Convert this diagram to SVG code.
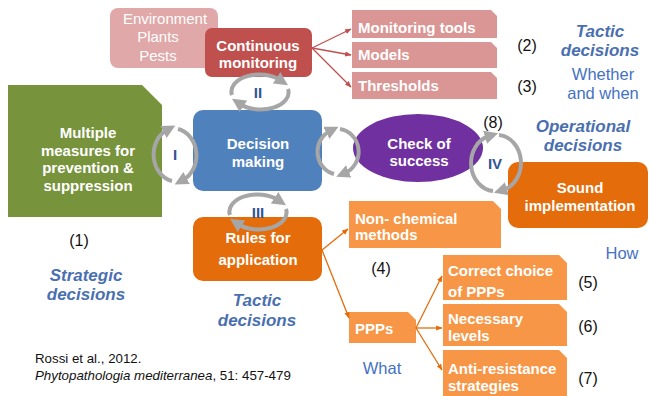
<svg xmlns="http://www.w3.org/2000/svg" width="650" height="396" viewBox="0 0 650 396">
<defs>
<style>
.w{font-family:"Liberation Sans",Arial,sans-serif;font-weight:bold;fill:#fff;font-size:15px}
.c{text-anchor:middle}
.blu{font-family:"Liberation Sans",Arial,sans-serif;font-weight:bold;font-style:italic;fill:#4a6fb0;font-size:17px;text-anchor:middle}
.blr{font-family:"Liberation Sans",Arial,sans-serif;fill:#4472c4;font-size:16.5px;text-anchor:middle}
.num{font-family:"Liberation Sans",Arial,sans-serif;fill:#111;font-size:16px;text-anchor:middle}
.rn{font-family:"Liberation Sans",Arial,sans-serif;font-weight:bold;fill:#2f5597;font-size:15px;text-anchor:middle}
.cyc{fill:none;stroke:#a6a6a6;stroke-width:4;marker-end:url(#ga)}
.rl{fill:none;stroke:#c0504d;stroke-width:1.3;marker-end:url(#ra)}
.ol{fill:none;stroke:#e46c0a;stroke-width:1.3;marker-end:url(#oa)}
.lo{fill:#f79646}
.pk{fill:#d99694}
.ref{font-family:"Liberation Sans",Arial,sans-serif;fill:#111;font-size:13.3px}
</style>
<marker id="ga" viewBox="0 0 10 10" refX="3" refY="5" markerWidth="3.4" markerHeight="3.4" orient="auto"><path d="M0,0 L10,5 L0,10 Z" fill="#a6a6a6"/></marker>
<marker id="ra" viewBox="0 0 10 10" refX="9" refY="5" markerWidth="5" markerHeight="5" orient="auto"><path d="M0,1 L10,5 L0,9 Z" fill="#c0504d"/></marker>
<marker id="oa" viewBox="0 0 10 10" refX="9" refY="5" markerWidth="5" markerHeight="5" orient="auto"><path d="M0,1 L10,5 L0,9 Z" fill="#e46c0a"/></marker>
</defs>
<rect width="650" height="396" fill="#fff"/>

<g id="environment">
<rect x="110" y="8" width="108" height="60" rx="8" fill="#e0a8a8"/>
<text class="c" x="165" y="24" font-family="Liberation Sans,Arial,sans-serif" font-size="15" fill="#fff">Environment</text>
<text class="c" x="158" y="42" font-family="Liberation Sans,Arial,sans-serif" font-size="15" fill="#fff">Plants</text>
<text class="c" x="158" y="61" font-family="Liberation Sans,Arial,sans-serif" font-size="15" fill="#fff">Pests</text>
</g>
<g id="continuous-monitoring">
<rect x="205" y="28" width="107" height="49" rx="7" fill="#c0504d"/>
<text class="w c" x="258" y="51">Continuous</text>
<text class="w c" x="258" y="68">monitoring</text>
</g>
<g id="monitoring-tools">
<path class="pk" d="M352,10 H491 L497,16 V38 H352 Z"/>
<text class="w" x="358" y="33">Monitoring tools</text>
</g>
<g id="models">
<path class="pk" d="M352,42 H491 L497,48 V68 H352 Z"/>
<text class="w" x="358" y="60">Models</text>
</g>
<g id="thresholds">
<path class="pk" d="M352,72 H491 L497,78 V99 H352 Z"/>
<text class="w" x="358" y="91">Thresholds</text>
</g>
<g id="multiple-measures">
<path d="M8,85 H142 L162,105 V217 H8 Z" fill="#77933c"/>
<text class="w c" x="88" y="138" font-size="17">Multiple</text>
<text class="w c" x="88" y="156" font-size="17">measures for</text>
<text class="w c" x="88" y="173" font-size="17">prevention &amp;</text>
<text class="w c" x="88" y="191" font-size="17">suppression</text>
</g>
<g id="decision-making">
<rect x="193" y="110" width="129" height="81" rx="10" fill="#4f81bd"/>
<text class="w c" x="258" y="149" font-size="17">Decision</text>
<text class="w c" x="258" y="167" font-size="17">making</text>
</g>
<g id="check-of-success">
<ellipse cx="418" cy="148" rx="65" ry="34" fill="#7030a0"/>
<text class="w c" x="419" y="149" font-size="16">Check of</text>
<text class="w c" x="419" y="166" font-size="16">success</text>
</g>
<g id="sound-implementation">
<rect x="508" y="162" width="140" height="66" rx="10" fill="#e46c0a"/>
<text class="w c" x="580" y="193" font-size="15.5">Sound</text>
<text class="w c" x="580" y="211" font-size="15.5">implementation</text>
</g>
<g id="rules-for-application">
<rect x="193" y="217" width="129" height="64" rx="10" fill="#e46c0a"/>
<text class="w c" x="258" y="243">Rules for</text>
<text class="w c" x="258" y="265">application</text>
</g>
<g id="non-chemical">
<path class="lo" d="M349,201 H493 L501,209 V248 H349 Z"/>
<text class="w" x="355" y="224">Non- chemical</text>
<text class="w" x="355" y="240">methods</text>
</g>
<g id="ppps">
<path class="lo" d="M349,312 H408 L416,320 V343 H349 Z"/>
<text class="w" x="355" y="334">PPPs</text>
</g>
<g id="correct-choice">
<path class="lo" d="M443,255 H559 L567,263 V300 H443 Z"/>
<text class="w" x="448" y="276">Correct choice</text>
<text class="w" x="448" y="297">of PPPs</text>
</g>
<g id="necessary-levels">
<path class="lo" d="M443,304 H559 L567,312 V346 H443 Z"/>
<text class="w" x="448" y="324">Necessary</text>
<text class="w" x="448" y="341">levels</text>
</g>
<g id="anti-resistance">
<path class="lo" d="M443,350 H559 L567,358 V396 H443 Z"/>
<text class="w" x="448" y="374">Anti-resistance</text>
<text class="w" x="448" y="391">strategies</text>
</g>

<g id="connectors">
<path class="rl" d="M312,48 L351,29"/>
<path class="rl" d="M312,48 L351,55"/>
<path class="rl" d="M312,48 L351,87"/>
<path class="ol" d="M322,250 L348,229"/>
<path class="ol" d="M322,250 L349,318"/>
<path class="ol" d="M416,328 L442,276"/>
<path class="ol" d="M416,328 L442,328"/>
<path class="ol" d="M416,328 L442,370"/>
<path class="cyc" d="M172,181 A23,27 0 0 1 167,130"/>
<path class="cyc" d="M178,129 A23,27 0 0 1 183,180"/>
<path class="cyc" d="M232,95 A28,17 0 0 1 280,80"/>
<path class="cyc" d="M288,89 A28,17 0 0 1 240,104"/>
<path class="cyc" d="M230,215 A28,17 0 0 1 278,200"/>
<path class="cyc" d="M286,209 A28,17 0 0 1 238,224"/>
<path class="cyc" d="M334,174 A22,23 0 0 1 330,131"/>
<path class="cyc" d="M340,129 A22,23 0 0 1 345,173"/>
<path class="cyc" d="M493,191 A24,28 0 0 1 489,136"/>
<path class="cyc" d="M499,135 A24,28 0 0 1 503,190"/>
</g>

<g id="labels">
<text class="rn" x="175" y="160">I</text>
<text class="rn" x="258" y="98">II</text>
<text class="rn" x="258" y="218">III</text>
<text class="rn" x="495" y="169">IV</text>
<text class="num" x="527" y="51">(2)</text>
<text class="num" x="527" y="92">(3)</text>
<text class="num" x="493" y="128">(8)</text>
<text class="num" x="79" y="246">(1)</text>
<text class="num" x="381" y="274">(4)</text>
<text class="num" x="588" y="288">(5)</text>
<text class="num" x="588" y="332">(6)</text>
<text class="num" x="588" y="384">(7)</text>
<text class="blu" x="600" y="37">Tactic</text>
<text class="blu" x="600" y="56">decisions</text>
<text class="blr" x="603" y="80">Whether</text>
<text class="blr" x="603" y="99">and when</text>
<text class="blu" x="583" y="132">Operational</text>
<text class="blu" x="583" y="151">decisions</text>
<text class="blu" x="86" y="281">Strategic</text>
<text class="blu" x="86" y="300">decisions</text>
<text class="blu" x="257" y="306">Tactic</text>
<text class="blu" x="257" y="326">decisions</text>
<text class="blr" x="622" y="259">How</text>
<text class="blr" x="382" y="374">What</text>
<text class="ref" x="35" y="363">Rossi et al., 2012.</text>
<text class="ref" x="35" y="380"><tspan font-style="italic">Phytopathologia mediterranea</tspan>, 51: 457-479</text>
</g>
</svg>
